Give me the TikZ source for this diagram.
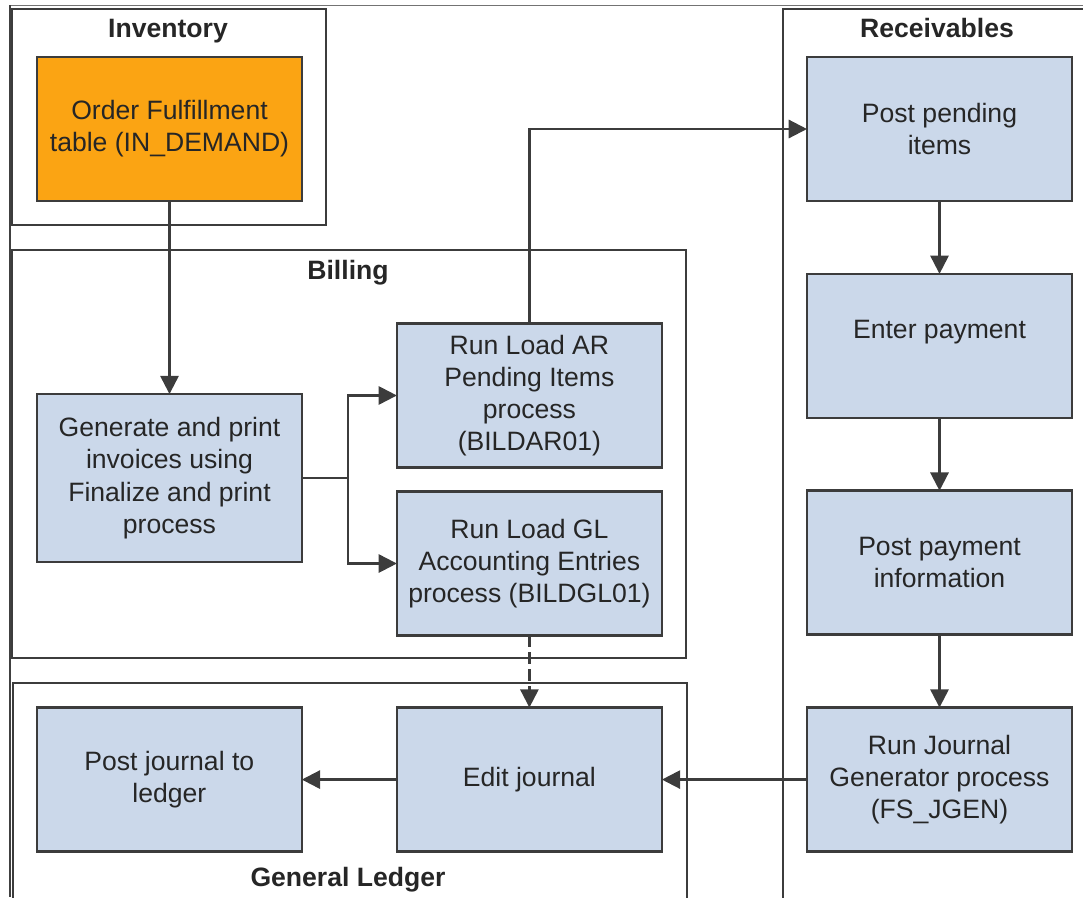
\documentclass[tikz,border=0pt]{standalone}
\usepackage{fontspec}
\setmainfont{Liberation Sans}
\usetikzlibrary{shapes,arrows.meta,positioning}

\definecolor{boxblue}{RGB}{203,216,234}
\definecolor{boxorange}{RGB}{251,164,19}
\definecolor{linegray}{RGB}{60,60,60}
\definecolor{textgray}{RGB}{38,38,38}

\begin{document}
\begin{tikzpicture}[x=0.025cm, y=-0.025cm, auto, thick]
        \tikzstyle{block} = [rectangle, draw=linegray, fill=boxblue, line width=1.8pt, outer sep=0pt, text=textgray, align=center, inner sep=2pt, minimum width=6.625cm, minimum height=3.6cm, font=\fontsize{18.9}{22.8}\selectfont]
        \tikzstyle{frame} = [draw=linegray, line width=1.6pt]
        \tikzstyle{title} = [text=textgray, font=\fontsize{18.9}{22.8}\selectfont\bfseries]
        \tikzstyle{line} = [draw=linegray, line width=1.6pt, -{Triangle[length=13pt,width=13pt]}]

        \useasboundingbox (0,0) rectangle (1083,897);

        % outer edge of the page
        \draw [black!55, line width=0.6pt] (1083,5) -- (10,5);
        \draw [black!75, line width=0.9pt] (10,5) -- (10,897);

        % module frames
        \draw [frame] (12,9) rectangle (326,225);
        \draw [frame] (12,250) rectangle (686,658);
        \draw [frame] (13,683) rectangle (687,910);
        \draw [frame] (783,9) rectangle (1100,910);

        \node [title] (invtitle) at (168,31) {Inventory};
        \node [title] (billtitle) at (348,273) {Billing};
        \node [title] (gltitle) at (348,880) {General Ledger};
        \node [title] (rectitle) at (937,28) {Receivables};

        % left column
        \node [block, fill=boxorange] (order) at (169.5,129) {Order Fulfillment\\table (IN\_DEMAND)};
        \node [block, minimum height=4.2cm, below=4.825cm of order] (invoice) {Generate and print\\invoices using\\Finalize and print\\process};

        % receivables column
        \node [block] (postpend) at (939.5,129) {Post pending\\items};
        \node [block, below=1.82cm of postpend] (enterpay) {Enter payment\\\mbox{}};
        \node [block, below=1.82cm of enterpay] (postpay) {Post payment\\information};
        \node [block, below=1.82cm of postpay] (rungen) {Run Journal\\Generator process\\(FS\_JGEN)};

        % middle column
        \node [block, left=3.625cm of rungen] (editjrnl) {Edit journal};
        \node [block, left=2.375cm of editjrnl] (postjrnl) {Post journal to\\ledger};
        \node [block, above=1.8cm of editjrnl] (loadgl) {Run Load GL\\Accounting Entries\\process (BILDGL01)};
        \node [block, above=0.6cm of loadgl] (loadar) {Run Load AR\\Pending Items\\process\\(BILDAR01)};

        \coordinate [right=1.15cm of invoice] (split);

        \path [line] (order) -- (invoice);
        \draw [draw=linegray, line width=1.6pt] (invoice.east) -- (split);
        \draw [line] (split) |- (loadar);
        \draw [line] (split) |- (loadgl);
        \draw [line] (loadar) |- (postpend);
        \path [line, dash pattern=on 8pt off 4pt] (loadgl) -- (editjrnl);

        \path [line] (postpend) -- (enterpay);
        \path [line] (enterpay) -- (postpay);
        \path [line] (postpay) -- (rungen);

        \path [line] (rungen) -- (editjrnl);
        \path [line] (editjrnl) -- (postjrnl);
    \end{tikzpicture}
\end{document}
